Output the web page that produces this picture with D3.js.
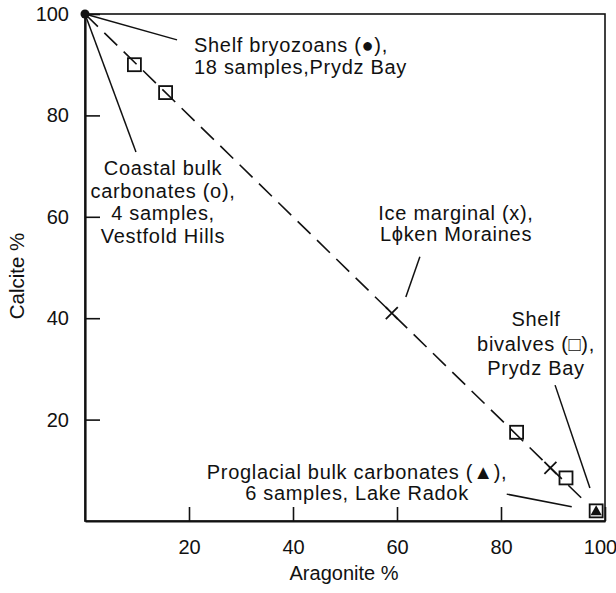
<!DOCTYPE html>
<html>
<head>
<meta charset="utf-8">
<script src="https://cdn.jsdelivr.net/npm/d3@7"></script>
<style>
  body { margin: 0; background: #fff; }
  text { font-family: "Liberation Sans", Arial, Helvetica, sans-serif; fill: #111; }
</style>
</head>
<body>
<script>
var width = 616,
    height = 593;

// data (aragonite %, calcite %)
var bryozoans = [[0, 100]];
var bivalves = [[9.5, 90], [15.5, 84.5], [83, 17.5], [92.5, 8.5], [98.3, 2]];
var iceMarginal = [[59, 41], [89.5, 10.5]];
var proglacial = [[98.3, 1.8]];
var mixingLine = [[0, 100], [96, 4]];

var xTicks = [20, 40, 60, 80, 100];
var yTicks = [20, 40, 60, 80, 100];

// labels: leader line from -> to (data units), text lines
var notes = [
  { lines: ['Shelf bryozoans (\u25CF),', '18 samples,Prydz Bay'], from: [0, 100], to: [17.7, 94.9], tx: 194, ty: 52, anchor: 'start', gap: 22 },
  { lines: ['Coastal bulk', 'carbonates (o),', '4 samples,', 'Vestfold Hills'], from: [0, 100], to: [9.8, 72.8], tx: 163, ty: 175, anchor: 'middle', gap: 22.5 },
  { lines: ['Ice marginal (x),', 'L\u03D5ken Moraines'], from: [64.4, 52.1], to: [61.7, 44.2], tx: 456, ty: 220, anchor: 'middle', gap: 21 },
  { lines: ['Shelf', 'bivalves (\u25A1),', 'Prydz Bay'], from: [90.4, 26.8], to: [97.1, 6.5], tx: 536, ty: 326, anchor: 'middle', gap: 24.5 },
  { lines: ['Proglacial bulk carbonates (\u25B2),', '6 samples, Lake Radok'], from: [81.1, 5.3], to: [93.6, 2.8], tx: 357, ty: 479, anchor: 'middle', gap: 21 }
];

var svg = d3.select('body')
  .append('svg')
  .attr('width', width)
  .attr('height', height);

var x = d3.scaleLinear().domain([0, 100]).range([85, 605]);
var y = d3.scaleLinear().domain([0, 100]).range([521, 14]);

// frame
svg.append('rect')
  .attr('x', x(0))
  .attr('y', y(100))
  .attr('width', x(100) - x(0))
  .attr('height', y(0) - y(100))
  .attr('fill', 'none')
  .attr('stroke', '#111')
  .attr('stroke-width', 1.6);

var xAxis = svg.append('g')
  .attr('transform', 'translate(0,' + y(0) + ')')
  .call(d3.axisBottom(x).tickValues(xTicks).tickSizeInner(-14).tickSizeOuter(0).tickPadding(19));

var yAxis = svg.append('g')
  .attr('transform', 'translate(' + x(0) + ',0)')
  .call(d3.axisLeft(y).tickValues(yTicks).tickSizeInner(-15).tickSizeOuter(0).tickPadding(16));

[xAxis, yAxis].forEach(function (g) {
  g.select('.domain').attr('stroke', '#111').attr('stroke-width', 2.2);
  g.selectAll('.tick line').attr('stroke', '#111').attr('stroke-width', 1.6);
  g.selectAll('.tick text')
    .style('font-family', '"Liberation Sans", Arial, sans-serif')
    .style('font-size', '20px')
    .attr('fill', '#111');
});

// keep the last x label inside the page
xAxis.selectAll('.tick text')
  .filter(function (d) { return d === 100; })
  .attr('dx', -5);

svg.append('text')
  .attr('x', 344)
  .attr('y', 580)
  .attr('text-anchor', 'middle')
  .style('font-size', '20px')
  .text('Aragonite %');

svg.append('text')
  .attr('transform', 'translate(24,276) rotate(-90)')
  .attr('text-anchor', 'middle')
  .style('font-size', '20.5px')
  .text('Calcite %');

// dashed mixing line
svg.append('path')
  .datum(mixingLine)
  .attr('d', d3.line().x(function (d) { return x(d[0]); }).y(function (d) { return y(d[1]); }))
  .attr('fill', 'none')
  .attr('stroke', '#111')
  .attr('stroke-width', 1.6)
  .attr('stroke-dasharray', '18,9');

// leader lines
svg.selectAll('line.leader')
  .data(notes)
  .enter().append('line')
  .attr('class', 'leader')
  .attr('x1', function (d) { return x(d.from[0]); })
  .attr('y1', function (d) { return y(d.from[1]); })
  .attr('x2', function (d) { return x(d.to[0]); })
  .attr('y2', function (d) { return y(d.to[1]); })
  .attr('stroke', '#111')
  .attr('stroke-width', 1.5);

// labels
notes.forEach(function (n) {
  var t = svg.append('text')
    .attr('text-anchor', n.anchor)
    .style('font-size', '20px')
    .style('letter-spacing', '0.7px');
  n.lines.forEach(function (s, i) {
    t.append('tspan')
      .attr('x', n.tx)
      .attr('y', n.ty + i * n.gap)
      .text(s);
  });
});

// markers
svg.selectAll('rect.sq')
  .data(bivalves)
  .enter().append('rect')
  .attr('class', 'sq')
  .attr('x', function (d) { return x(d[0]) - 6.5; })
  .attr('y', function (d) { return y(d[1]) - 6.5; })
  .attr('width', 13)
  .attr('height', 13)
  .attr('fill', 'none')
  .attr('stroke', '#111')
  .attr('stroke-width', 1.8);

svg.selectAll('path.cross')
  .data(iceMarginal)
  .enter().append('path')
  .attr('class', 'cross')
  .attr('transform', function (d) { return 'translate(' + x(d[0]) + ',' + y(d[1]) + ')'; })
  .attr('d', 'M-6,-6L6,6M-6,6L6,-6')
  .attr('stroke', '#111')
  .attr('stroke-width', 1.8);

svg.selectAll('path.tri')
  .data(proglacial)
  .enter().append('path')
  .attr('class', 'tri')
  .attr('transform', function (d) { return 'translate(' + x(d[0]) + ',' + y(d[1]) + ')'; })
  .attr('d', d3.symbol().type(d3.symbolTriangle).size(55))
  .attr('fill', '#111');

svg.selectAll('circle.dot')
  .data(bryozoans)
  .enter().append('circle')
  .attr('class', 'dot')
  .attr('cx', function (d) { return x(d[0]); })
  .attr('cy', function (d) { return y(d[1]); })
  .attr('r', 4.5)
  .attr('fill', '#111');
</script>
</body>
</html>
